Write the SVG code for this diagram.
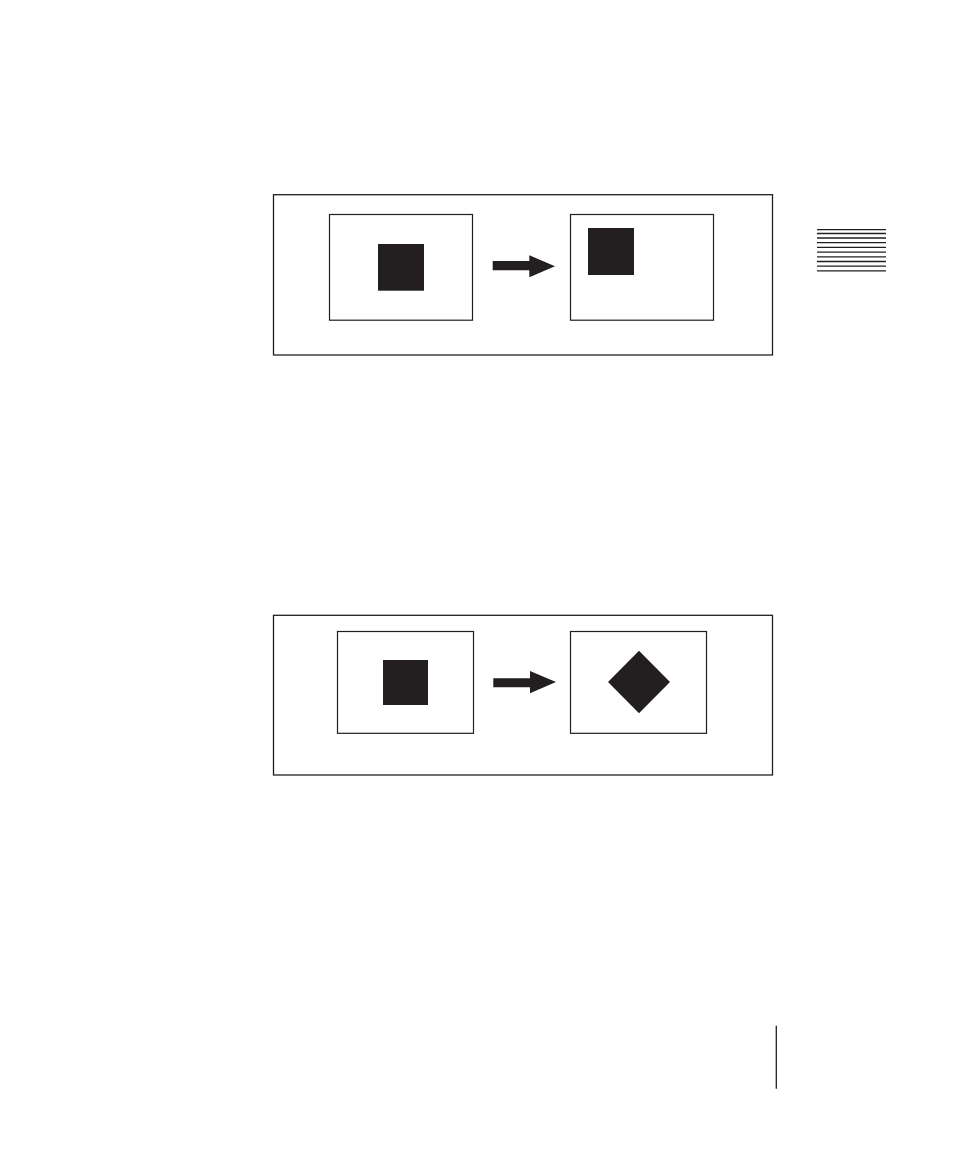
<svg xmlns="http://www.w3.org/2000/svg" width="954" height="1165" viewBox="0 0 954 1165">
<style>
.frame{fill:none;stroke:#231f20;stroke-width:1.2}
.outer{fill:none;stroke:#231f20;stroke-width:1.3}
.solid{fill:#231f20;stroke:none}
.rule{stroke:#231f20;stroke-width:1.3}
</style>
<rect width="954" height="1165" fill="#ffffff"/>
<g id="tab-marker">
<line class="rule" x1="817" y1="229.7" x2="886" y2="229.7"/>
<line class="rule" x1="817" y1="233.5" x2="886" y2="233.5"/>
<line class="rule" x1="817" y1="238" x2="886" y2="238"/>
<line class="rule" x1="817" y1="242.7" x2="886" y2="242.7"/>
<line class="rule" x1="817" y1="247.3" x2="886" y2="247.3"/>
<line class="rule" x1="817" y1="252.2" x2="886" y2="252.2"/>
<line class="rule" x1="817" y1="256.8" x2="886" y2="256.8"/>
<line class="rule" x1="817" y1="261.5" x2="886" y2="261.5"/>
<line class="rule" x1="817" y1="266.2" x2="886" y2="266.2"/>
<line class="rule" x1="817" y1="270.8" x2="886" y2="270.8"/>
</g>
<g id="page-rule">
<line class="rule" x1="776.3" y1="1025.7" x2="776.3" y2="1088.7"/>
</g>
<g id="figure1">
<rect class="outer" x="273.5" y="194.7" width="499" height="160.3"/>
<g id="fig1-before">
<rect class="frame" x="329.5" y="214.5" width="143" height="105.7"/>
<rect class="solid" x="378" y="244" width="46" height="46.7"/>
</g>
<g id="fig1-after">
<rect class="frame" x="570.5" y="214.5" width="143" height="105.7"/>
<rect class="solid" x="588" y="228" width="46" height="47"/>
</g>
</g>
<g id="figure2">
<rect class="outer" x="273.5" y="615.3" width="499" height="159.7"/>
<g id="fig2-before">
<rect class="frame" x="337.5" y="631.5" width="136" height="101.8"/>
<rect class="solid" x="383" y="660" width="45" height="45"/>
</g>
<g id="fig2-after">
<rect class="frame" x="570.5" y="631.5" width="136" height="101.8"/>
<polygon class="solid" points="639,650.7 670,682 639,713.3 608,682"/>
</g>
</g>
<g id="connectors">
<polygon class="solid" points="492.7,261 529.3,261 529.3,255.3 555,266.3 529.3,277.3 529.3,270.3 492.7,270.3"/>
<polygon class="solid" points="493.3,678.3 530,678.3 530,671 556,682 530,693.3 530,687.3 493.3,687.3"/>
</g>
</svg>
